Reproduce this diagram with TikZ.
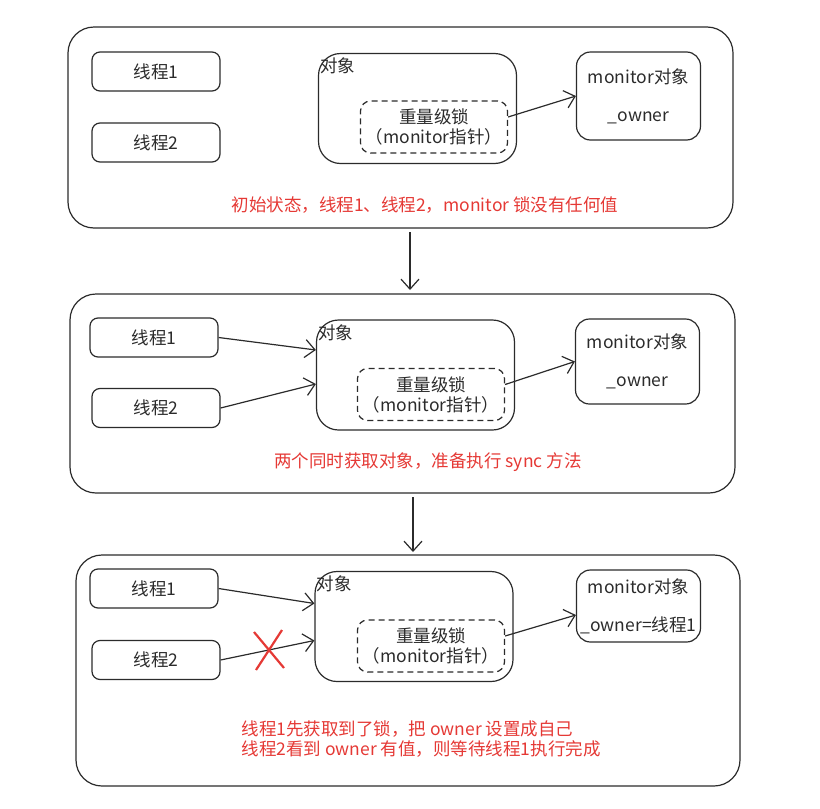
\documentclass[tikz,border=0pt]{standalone}
\usepackage{fontspec}
\setmainfont{Noto Sans CJK SC}
\usetikzlibrary{positioning}
\usetikzlibrary{arrows.meta}
\definecolor{notered}{HTML}{E53935}
\definecolor{inkgray}{HTML}{2B2B2B}
\tikzset{
    every node/.style={ % Text of all nodes
        font=\fontsize{17.5}{20}\selectfont,
        text=inkgray
    },
    panel/.style={ % Big frame round each step
        draw=inkgray, line width=1.2pt, rounded corners=26pt
    },
    thread/.style={
        draw=inkgray, line width=1.2pt, rounded corners=8pt,
        minimum width=128pt, minimum height=39pt
    },
    object/.style={
        draw=inkgray, line width=1.2pt, rounded corners=22pt,
        minimum width=198pt, minimum height=110pt
    },
    objlabel/.style={
        anchor=north west, inner sep=1pt, xshift=1pt, yshift=-4pt
    },
    lockbox/.style={
        draw=inkgray, line width=1.2pt, dash pattern=on 6pt off 4pt,
        rounded corners=10pt, align=center,
        minimum width=147pt, minimum height=52pt, inner sep=0pt
    },
    monitorbox/.style={
        draw=inkgray, line width=1.2pt, rounded corners=14pt, align=center,
        minimum width=124pt, inner sep=1pt
    },
    note/.style={
        text=notered, align=left
    },
    link/.style={ % Open arrow between boxes
        draw=inkgray, line width=1.2pt,
        -{Straight Barb[length=10pt,width=18pt]}
    }
}

\begin{document}
\begin{tikzpicture}[x=1pt, y=-1pt]
    \useasboundingbox (0,0) rectangle (820,809);

    % step 1
    \draw[panel] (68,27) rectangle (733,228);
    \coordinate (p1s) at (410,232);
    \node[thread] (s1t1) at (156,71.5) {线程1};
    \node[thread] (s1t2) at (156,142.5) {线程2};
    \node[object] (s1obj) at (417.5,108.5) {};
    \node[objlabel] (s1objl) at (s1obj.north west) {对象};
    \node[lockbox] (s1lock) at (434,127) {重量级锁\\（monitor指针）};
    \node[monitorbox, minimum height=88pt] (s1mon) at (638.5,96) {monitor对象\\[18pt]\_owner};
    \node[note] (s1note) at (425,205) {初始状态，线程1、线程2，monitor 锁没有任何值};
    \draw[link] ([yshift=10pt]s1lock.east) -- (s1mon.west);

    % step 2
    \draw[panel] (70,294) rectangle (735,493);
    \coordinate (p2n) at (410,290);
    \coordinate (p2s) at (413,497);
    \node[thread] (s2t1) at (154,337.5) {线程1};
    \node[thread] (s2t2) at (156,408) {线程2};
    \node[object] (s2obj) at (415.5,375) {};
    \node[objlabel] (s2objl) at (s2obj.north west) {对象};
    \node[lockbox] (s2lock) at (431,394.5) {重量级锁\\（monitor指针）};
    \node[monitorbox, minimum height=85pt] (s2mon) at (637.5,361.5) {monitor对象\\[18pt]\_owner};
    \node[note] (s2note) at (428,462) {两个同时获取对象，准备执行 sync 方法};
    \draw[link] (s2t1.east) -- ([yshift=25pt]s2obj.west);
    \draw[link] (s2t2.east) -- ([yshift=-9pt]s2obj.west);
    \draw[link] ([yshift=10pt]s2lock.east) -- (s2mon.west);

    % step 3
    \draw[panel] (76,555) rectangle (740,786);
    \coordinate (p3n) at (413,552);
    \node[thread] (s3t1) at (154,588.5) {线程1};
    \node[thread] (s3t2) at (156,660) {线程2};
    \node[object] (s3obj) at (414,626.5) {};
    \node[objlabel] (s3objl) at (s3obj.north west) {对象};
    \node[lockbox] (s3lock) at (431,646) {重量级锁\\（monitor指针）};
    \node[monitorbox, minimum height=72pt] (s3mon) at (638.5,606) {monitor对象\\[18pt]\_owner=线程1};
    \node[note, anchor=west] (s3note) at (238,739) {线程1先获取到了锁，把 owner 设置成自己\\线程2看到 owner 有值，则等待线程1执行完成};
    \draw[link] (s3t1.east) -- ([yshift=23pt]s3obj.west);
    \draw[link] (s3t2.east) -- ([yshift=-14pt]s3obj.west);
    \draw[link] ([yshift=10pt]s3lock.east) -- ([yshift=-9pt]s3mon.west);
    \coordinate (cross) at (270,650);
    \draw[notered, line width=2.2pt] ([shift={(-16,-18)}]cross) -- ([shift={(14,18)}]cross);
    \draw[notered, line width=2.2pt] ([shift={(12,-20)}]cross) -- ([shift={(-14,20)}]cross);

    % steps in order
    \draw[link] (p1s) -- (p2n);
    \draw[link] (p2s) -- (p3n);
\end{tikzpicture}
\end{document}
